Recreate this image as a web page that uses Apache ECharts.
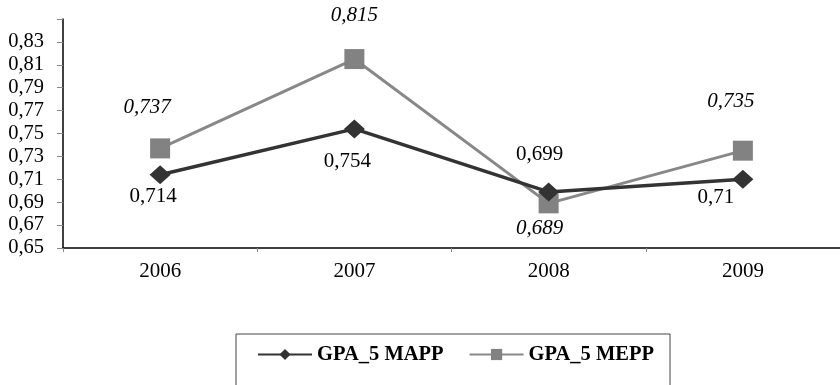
<!DOCTYPE html>
<html>
<head>
<meta charset="utf-8">
<script src="https://cdn.jsdelivr.net/npm/echarts@6/dist/echarts.min.js"></script>
<style>
html,body{margin:0;padding:0;background:#fff;}
#chart{width:840px;height:385px;}
</style>
</head>
<body>
<div id="chart"></div>
<script>
const categories = ['2006', '2007', '2008', '2009'];
const seriesNames = ['GPA_5 MAPP', 'GPA_5 MEPP'];
const mappValues = [0.714, 0.754, 0.699, 0.71];
const meppValues = [0.737, 0.815, 0.689, 0.735];
const yMin = 0.65, yMax = 0.85, yStep = 0.02;

// label placement (style only)
const mappLabelOffsets = [[-7, 22], [-7, 33], [-9, -37], [-27, 18]];
const meppLabelOffsets = [[-13, -41], [0, -44], [-9, 25], [-12, -49]];

const FONT = '"Liberation Serif", "Times New Roman", serif';
const fmt = v => String(v).replace('.', ',');

function buildData(values, offsets) {
  return values.map((v, i) => ({
    value: v,
    label: { offset: offsets[i] }
  }));
}

const chart = echarts.init(document.getElementById('chart'), null, { renderer: 'canvas' });
chart.setOption({
  animation: false,
  backgroundColor: '#fff',
  grid: { left: 63, top: 19, width: 782, bottom: 137, containLabel: false },
  xAxis: {
    type: 'category',
    data: categories,
    boundaryGap: true,
    axisLine: { lineStyle: { color: '#000', width: 1.5 } },
    axisTick: { show: true, alignWithLabel: false, length: 4, lineStyle: { color: '#888' } },
    axisLabel: { color: '#000', fontFamily: FONT, fontSize: 21, margin: 13 },
    splitLine: { show: false }
  },
  yAxis: {
    type: 'value',
    min: yMin, max: yMax, interval: yStep,
    axisLine: { show: true, lineStyle: { color: '#000', width: 1.5 } },
    axisTick: { show: true, length: 6, lineStyle: { color: '#888' } },
    axisLabel: {
      color: '#000', fontFamily: FONT, fontSize: 20.5, margin: 19,
      formatter: v => (Math.abs(v - yMax) < 1e-6 ? '' : v.toFixed(2).replace('.', ','))
    },
    splitLine: { show: false }
  },
  legend: {
    left: 236, top: 334,
    padding: [10, 16, 90, 21],
    borderColor: '#444', borderWidth: 1,
    itemWidth: 54, itemHeight: 14, itemGap: 25,
    textStyle: { color: '#000', fontFamily: FONT, fontSize: 20.5, fontWeight: 'bold' },
    data: seriesNames
  },
  series: [
    {
      name: seriesNames[0], type: 'line',
      data: buildData(mappValues, mappLabelOffsets),
      symbol: 'diamond', symbolSize: [21, 19],
      lineStyle: { color: '#333', width: 3.5 },
      itemStyle: { color: '#333' },
      z: 3,
      label: {
        show: true, position: 'inside', color: '#000',
        fontFamily: FONT, fontSize: 21, formatter: p => fmt(p.value)
      }
    },
    {
      name: seriesNames[1], type: 'line',
      data: buildData(meppValues, meppLabelOffsets),
      symbol: 'rect', symbolSize: 20,
      lineStyle: { color: '#888', width: 3 },
      itemStyle: { color: '#828282' },
      z: 2,
      label: {
        show: true, position: 'inside', color: '#000',
        fontFamily: FONT, fontSize: 21, fontStyle: 'italic', formatter: p => fmt(p.value)
      }
    }
  ]
});
</script>
</body>
</html>
